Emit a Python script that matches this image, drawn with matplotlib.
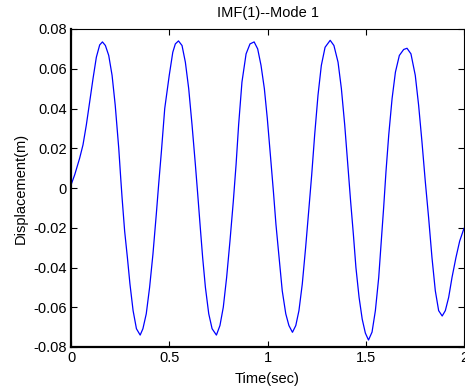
import matplotlib
matplotlib.use("Agg")
import matplotlib.pyplot as plt

# Time (s) and displacement (m)
time_s = [0.000, 0.019, 0.044, 0.061, 0.078, 0.095, 0.112, 0.129, 0.146, 0.160,
          0.175, 0.192, 0.209, 0.225, 0.243, 0.253, 0.260, 0.273, 0.287, 0.300,
          0.316, 0.333, 0.352, 0.366, 0.383, 0.400, 0.417, 0.434, 0.446, 0.460,
          0.477, 0.500, 0.518, 0.531, 0.547, 0.565, 0.582, 0.599, 0.616, 0.633,
          0.645, 0.658, 0.670, 0.684, 0.701, 0.718, 0.740, 0.758, 0.775, 0.792,
          0.809, 0.826, 0.840, 0.853, 0.870, 0.891, 0.911, 0.932, 0.950, 0.967,
          0.984, 0.999, 1.016, 1.030, 1.043, 1.059, 1.075, 1.093, 1.109, 1.127,
          1.144, 1.160, 1.177, 1.194, 1.211, 1.225, 1.240, 1.257, 1.274, 1.293,
          1.319, 1.338, 1.359, 1.376, 1.393, 1.410, 1.423, 1.437, 1.450, 1.466,
          1.482, 1.498, 1.514, 1.532, 1.549, 1.566, 1.579, 1.591, 1.603, 1.617,
          1.634, 1.651, 1.671, 1.693, 1.710, 1.730, 1.752, 1.769, 1.786, 1.803,
          1.820, 1.837, 1.854, 1.871, 1.889, 1.905, 1.922, 1.939, 1.959, 1.978,
          2.000]
displacement_m = [0.0015, 0.0067, 0.0150, 0.0217, 0.0317, 0.0433, 0.0550, 0.0658, 0.0720, 0.0735,
                  0.0717, 0.0667, 0.0567, 0.0417, 0.0200, 0.0050, -0.0050, -0.0217, -0.0350, -0.0483,
                  -0.0617, -0.0708, -0.0740, -0.0708, -0.0633, -0.0500, -0.0333, -0.0133, 0.0017, 0.0183,
                  0.0400, 0.0567, 0.0683, 0.0725, 0.0740, 0.0717, 0.0633, 0.0500, 0.0317, 0.0117,
                  -0.0033, -0.0200, -0.0350, -0.0500, -0.0633, -0.0708, -0.0740, -0.0692, -0.0600, -0.0450,
                  -0.0267, -0.0067, 0.0117, 0.0317, 0.0533, 0.0675, 0.0725, 0.0735, 0.0700, 0.0617,
                  0.0500, 0.0350, 0.0150, -0.0017, -0.0183, -0.0350, -0.0517, -0.0633, -0.0692, -0.0726,
                  -0.0692, -0.0617, -0.0483, -0.0300, -0.0100, 0.0067, 0.0267, 0.0467, 0.0617, 0.0708,
                  0.0743, 0.0717, 0.0633, 0.0500, 0.0317, 0.0100, -0.0067, -0.0233, -0.0400, -0.0550,
                  -0.0660, -0.0730, -0.0765, -0.0725, -0.0617, -0.0450, -0.0267, -0.0100, 0.0083, 0.0267,
                  0.0450, 0.0583, 0.0667, 0.0697, 0.0703, 0.0675, 0.0567, 0.0417, 0.0233, 0.0033,
                  -0.0150, -0.0350, -0.0517, -0.0617, -0.0644, -0.0617, -0.0550, -0.0450, -0.0350, -0.0267,
                  -0.0203]

x_ticks = [0, 0.5, 1, 1.5, 2]
x_tick_labels = ["0", "0.5", "1", "1.5", "2"]
y_ticks = [-0.08, -0.06, -0.04, -0.02, 0, 0.02, 0.04, 0.06, 0.08]
y_tick_labels = ["-0.08", "-0.06", "-0.04", "-0.02", "0", "0.02", "0.04", "0.06", "0.08"]

plt.rcParams['font.family'] = ['Liberation Sans', 'DejaVu Sans']

fig = plt.figure(figsize=(4.65, 3.89), dpi=100)
ax = fig.add_axes([71/465, 42/389, 393/465, 318/389])

ax.plot(time_s, displacement_m, color=(0, 0, 1), linewidth=0.9,
        solid_joinstyle='round')

ax.set_xlim(0, 2)
ax.set_ylim(-0.08, 0.08)
ax.set_xticks(x_ticks)
ax.set_xticklabels(x_tick_labels)
ax.set_yticks(y_ticks)
ax.set_yticklabels(y_tick_labels)
ax.tick_params(direction='in', top=True, right=True, length=4, width=0.8,
               labelsize=10.5, colors='black', pad=3)

for side in ['left', 'bottom']:
    ax.spines[side].set_linewidth(1.6)
for side in ['top', 'right']:
    ax.spines[side].set_linewidth(0.8)

ax.set_title("IMF(1)--Mode 1", fontsize=10.5, pad=9)
ax.set_xlabel("Time(sec)", fontsize=10.5, labelpad=5)
ax.set_ylabel("Displacement(m)", fontsize=10.5, labelpad=4)

fig.savefig("out.png", dpi=100)
